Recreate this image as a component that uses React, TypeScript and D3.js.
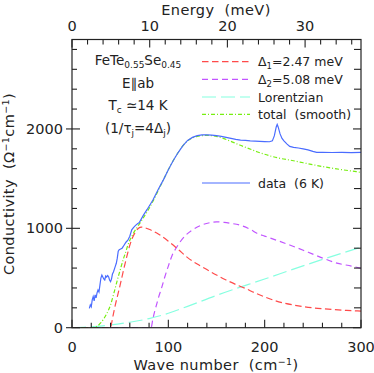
import React from "react";
import * as d3 from "d3";

// ---- data (wave number cm^-1, conductivity Ω^-1 cm^-1) ----
const dataWn = [18,19,20,21,22,23,24,25,26,27,28,29,30,31,32,33,34,35,36,37,38,39,40,41,42,43,44,45,46,47,48,49,50,52,54,56,58,60,62,64,66,68,70,74,78,84,90,95,100,105,110,115,120,125,130,135,140,145,150,155,160,165,170,175,180,185,190,195,200,205,208,210,212,213,214,216,218,220,223,226,230,235,240,245,250,254,260,270,280,290,300];
const dataVal = [195,230,210,280,312,270,330,300,350,379,360,430,500,530,510,490,480,520,510,525,513,480,463,490,540,560,590,620,648,700,770,785,790,800,830,860,880,920,985,1010,1030,1045,1060,1130,1190,1285,1400,1490,1590,1680,1760,1830,1885,1915,1932,1940,1940,1938,1932,1925,1915,1905,1895,1888,1884,1880,1878,1875,1873,1871,1880,1930,2020,2045,2020,1950,1905,1880,1850,1825,1815,1808,1800,1790,1775,1765,1764,1763,1765,1762,1765];

const totalWn = [0,10,20,25,28,30,33,36,38,40,43,46,48,50,53,56,58,61,64,67,70,75,80,85,90,95,100,105,110,115,120,125,130,135,140,145,150,157,165,174,183,192,200,209,218,226,240,250,261,270,280,295,300];
const totalVal = [0,0,2,10,30,50,90,140,180,230,330,440,513,580,681,770,830,900,955,1000,1045,1120,1200,1290,1390,1490,1590,1680,1760,1830,1880,1910,1925,1932,1935,1932,1925,1905,1875,1838,1805,1771,1745,1720,1700,1687,1660,1640,1620,1605,1590,1570,1562];

const gap1Wn = [0,40,41,43,45,48,50,53,57,60,63,66,69,72,76,80,90,100,110,120,130,140,150,160,170,180,190,200,210,220,230,240,255,270,285,300];
const gap1Val = [0,0,40,140,230,350,430,560,720,830,910,965,1000,1012,1005,990,940,870,790,705,640,585,530,480,435,395,350,310,275,248,228,212,195,183,174,167];

const gap2Wn = [0,82,84,86,88,90,93,96,100,104,108,112,118,126,135,145,150,158,165,175,185,192,200,212,226,240,250,261,275,290,300];
const gap2Val = [0,0,90,170,240,310,400,500,620,730,800,860,930,990,1035,1060,1065,1060,1050,1030,990,950,922,881,832,780,740,698,650,620,598];

const lorWn = [0,20,40,60,80,100,120,150,200,250,300];
const lorVal = [0,9,28,55,92,145,215,325,490,655,810];

const yMajor = [0, 1000, 2000];
const xMajor = [0, 100, 200, 300];
const eMajor = [0, 10, 20, 30];

const CM_PER_MEV = 8.0655;

const FONT = "'DejaVu Sans', sans-serif";
const SP = "\u00a0";

export default function App() {
  const L = 72, R = 361, T = 39.5, B = 327.7;
  const x = d3.scaleLinear().domain([0, 300]).range([L, R]);
  const y = d3.scaleLinear().domain([0, 2900]).range([B, T]);
  const xe = d3.scaleLinear().domain([0, 300 / CM_PER_MEV]).range([L, R]);

  const mk = (wn: number[], v: number[], curve: any) =>
    d3.line<number>().x((_, i) => x(wn[i])).y((_, i) => y(v[i])).curve(curve)(wn) || "";

  const yMinor = d3.range(0, 2900, 200).filter((v) => v % 1000 !== 0);
  const xMinor = d3.range(0, 301, 20).filter((v) => v % 100 !== 0);
  const eMinor = d3.range(0, 300 / CM_PER_MEV, 2).filter((v) => v % 10 !== 0);

  const red = "#ff4a4a";
  const purple = "#c155ff";
  const cyan = "#86ffe0";
  const green = "#77ee11";
  const blue = "#4a6cff";

  const legendRows = [
    { c: red, dash: "6.5,3.5", label: <>Δ<tspan baselineShift="-30%" fontSize={8.5}>1</tspan>=2.47 meV</> },
    { c: purple, dash: "6,4", label: <>Δ<tspan baselineShift="-30%" fontSize={8.5}>2</tspan>=5.08 meV</> },
    { c: cyan, dash: "14,5", label: <>Lorentzian</> },
    { c: green, dash: "4,2,1,2", label: <>{"total" + SP + SP + "(smooth)"}</> },
  ];
  const legY = [61.7, 79.3, 97, 114.3];

  return (
    <svg width={374} height={373} style={{ position: "absolute", left: 0, top: 0, background: "#fff" }} fontFamily={FONT}>
      <defs>
        <clipPath id="plot">
          <rect x={L} y={T} width={R - L} height={B - T} />
        </clipPath>
      </defs>
      {/* curves */}
      <g clipPath="url(#plot)" fill="none" strokeWidth={1.2}>
        <path d={mk(lorWn, lorVal, d3.curveMonotoneX)} stroke={cyan} strokeDasharray="14,5" />
        <path d={mk(gap2Wn, gap2Val, d3.curveMonotoneX)} stroke={purple} strokeDasharray="6,4" />
        <path d={mk(gap1Wn, gap1Val, d3.curveMonotoneX)} stroke={red} strokeDasharray="6.5,3.5" />
        <path d={mk(totalWn, totalVal, d3.curveMonotoneX)} stroke={green} strokeDasharray="4,2,1,2" />
        <path d={mk(dataWn, dataVal, d3.curveLinear)} stroke={blue} />
      </g>
      {/* frame */}
      <rect x={L} y={T} width={R - L} height={B - T} fill="none" stroke="#222" strokeWidth={1.2} />
      {/* ticks */}
      <g stroke="#222" strokeWidth={1.1}>
        {yMajor.map((v) => (
          <g key={"ym" + v}>
            <line x1={L - 6} x2={L + 8} y1={y(v)} y2={y(v)} />
            <line x1={R - 8} x2={R} y1={y(v)} y2={y(v)} />
          </g>
        ))}
        {yMinor.map((v) => (
          <g key={"yn" + v}>
            <line x1={L} x2={L + 5} y1={y(v)} y2={y(v)} />
            <line x1={R - 7} x2={R} y1={y(v)} y2={y(v)} />
          </g>
        ))}
        {xMajor.map((v) => (
          <line key={"xm" + v} x1={x(v)} x2={x(v)} y1={B} y2={B - 8} />
        ))}
        {xMinor.map((v) => (
          <line key={"xn" + v} x1={x(v)} x2={x(v)} y1={B} y2={B - 5} />
        ))}
        {eMajor.map((v) => (
          <line key={"em" + v} x1={xe(v)} x2={xe(v)} y1={T} y2={T + 8} />
        ))}
        {eMinor.map((v) => (
          <line key={"en" + v} x1={xe(v)} x2={xe(v)} y1={T} y2={T + 5} />
        ))}
      </g>
      {/* tick labels */}
      <g fontSize={14.5} fill="#222">
        {yMajor.map((v) => (
          <text key={"yl" + v} x={63} y={y(v) + 5} textAnchor="end">{v}</text>
        ))}
        {xMajor.map((v) => (
          <text key={"xl" + v} x={x(v)} y={352} textAnchor="middle">{v}</text>
        ))}
        {eMajor.map((v) => (
          <text key={"el" + v} x={xe(v)} y={31} textAnchor="middle">{v}</text>
        ))}
      </g>
      {/* axis titles */}
      <g fontSize={14.5} fill="#222" letterSpacing={0.4}>
        <text x={216} y={370} textAnchor="middle">
          {"Wave number" + SP + SP + "(cm"}<tspan baselineShift="super" fontSize={9.5}>−1</tspan>)
        </text>
        <text x={216} y={15} textAnchor="middle">{"Energy" + SP + SP + "(meV)"}</text>
        <text transform="translate(14,184) rotate(-90)" textAnchor="middle">
          {"Conductivity" + SP + SP + "(Ω"}<tspan baselineShift="super" fontSize={9.5}>−1</tspan>cm<tspan baselineShift="super" fontSize={9.5}>−1</tspan>)
        </text>
      </g>
      {/* annotations */}
      <g fontSize={13.5} fill="#222" textAnchor="middle">
        <text x={138} y={65}>
          FeTe<tspan baselineShift="-30%" fontSize={9}>0.55</tspan>Se<tspan baselineShift="-30%" fontSize={9}>0.45</tspan>
        </text>
        <text x={138} y={88}>E∥ab</text>
        <text x={138} y={110}>
          T<tspan baselineShift="-30%" fontSize={9}>c</tspan>{SP + "≃14 K"}
        </text>
        <text x={138} y={133}>
          (1/τ<tspan baselineShift="-30%" fontSize={9}>j</tspan>=4Δ<tspan baselineShift="-30%" fontSize={9}>j</tspan>)
        </text>
      </g>
      {/* legend */}
      <g fontSize={12.5} fill="#222">
        {legendRows.map((r, i) => (
          <g key={"lg" + i}>
            <line x1={202} x2={250} y1={legY[i]} y2={legY[i]} stroke={r.c} strokeWidth={1.2} strokeDasharray={r.dash} />
            <text x={258} y={legY[i] + 4.5}>{r.label}</text>
          </g>
        ))}
        <line x1={202} x2={250} y1={183} y2={183} stroke={blue} strokeWidth={1.2} />
        <text x={258} y={187.5}>{"data" + SP + SP + "(6 K)"}</text>
      </g>
    </svg>
  );
}
